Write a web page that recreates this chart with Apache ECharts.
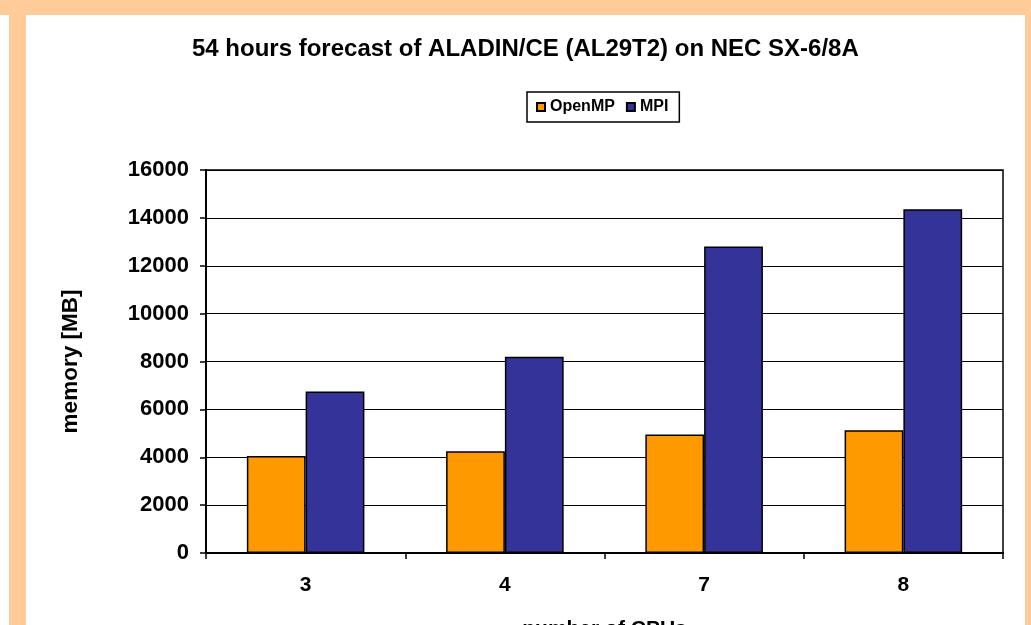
<!DOCTYPE html>
<html>
<head>
<meta charset="utf-8">
<title>ALADIN/CE memory usage</title>
<script src="https://cdn.jsdelivr.net/npm/echarts@6/dist/echarts.min.js"></script>
<style>
  html, body { margin: 0; padding: 0; background: #ffffff; }
  #chart { width: 1031px; height: 625px; }
</style>
</head>
<body>
<div id="chart"></div>
<script>
// Number of CPUs on the x axis
const cpus = ['3', '4', '7', '8'];
// Memory use in MB for each parallelisation scheme
const openmpMemory = [4050, 4250, 4950, 5130];
const mpiMemory = [6750, 8200, 12800, 14360];
// Value axis range
const yMin = 0;
const yMax = 16000;
const yStep = 2000;

const FONT = '"Liberation Sans", Arial, Helvetica, sans-serif';
const PEACH = '#FFCC99';

const chart = echarts.init(document.getElementById('chart'), null, { renderer: 'canvas' });

chart.setOption({
  backgroundColor: '#ffffff',
  animation: false,
  graphic: [
    { type: 'rect', z: -10, shape: { x: 0, y: 0, width: 1031, height: 15 }, style: { fill: PEACH } },
    { type: 'rect', z: -10, shape: { x: 9, y: 0, width: 17, height: 625 }, style: { fill: PEACH } },
    { type: 'rect', z: -10, shape: { x: 1025, y: 0, width: 6, height: 625 }, style: { fill: PEACH } }
  ],
  title: {
    text: '54 hours forecast of ALADIN/CE (AL29T2) on NEC SX-6/8A',
    left: 192,
    top: 37,
    padding: 0,
    textStyle: { fontFamily: FONT, fontSize: 24, fontWeight: 'bold', color: '#000' }
  },
  legend: {
    left: 527,
    top: 92,
    padding: [7, 11, 7, 9],
    itemGap: 11,
    itemWidth: 8,
    itemHeight: 8,
    icon: 'rect',
    borderColor: '#000',
    borderWidth: 1.5,
    textStyle: { fontFamily: FONT, fontSize: 16, fontWeight: 'bold', color: '#000' },
    data: ['OpenMP', 'MPI']
  },
  grid: {
    left: 206,
    right: 28,
    top: 170,
    bottom: 72,
    outerBoundsMode: 'none',
    containLabel: false,
    show: true,
    borderColor: '#000',
    borderWidth: 1.5,
    backgroundColor: 'transparent'
  },
  xAxis: {
    type: 'category',
    data: cpus,
    name: 'number of CPUs',
    nameLocation: 'middle',
    nameGap: 66,
    nameTextStyle: { fontFamily: FONT, fontSize: 21, fontWeight: 'bold', color: '#000' },
    axisLine: { lineStyle: { color: '#000', width: 2 } },
    axisTick: { show: true, length: 6, lineStyle: { color: '#000', width: 1.5 } },
    axisLabel: { margin: 22, fontFamily: FONT, fontSize: 21, fontWeight: 'bold', color: '#000' },
    splitLine: { show: false }
  },
  yAxis: {
    type: 'value',
    min: yMin,
    max: yMax,
    interval: yStep,
    name: 'memory [MB]',
    nameLocation: 'middle',
    nameGap: 124,
    nameTextStyle: { fontFamily: FONT, fontSize: 22.5, fontWeight: 'bold', color: '#000' },
    axisLine: { show: true, lineStyle: { color: '#000', width: 2 } },
    axisTick: { show: true, length: 6, lineStyle: { color: '#000', width: 1.5 } },
    axisLabel: {
      margin: 17,
      formatter: (v) => String(v),
      fontFamily: FONT, fontSize: 22, fontWeight: 'bold', color: '#000'
    },
    splitLine: { show: true, lineStyle: { color: '#000', width: 1.2 } }
  },
  series: [
    {
      name: 'OpenMP',
      type: 'bar',
      data: openmpMemory,
      barGap: '0%',
      barCategoryGap: '41%',
      itemStyle: { color: '#FF9900', borderColor: '#000', borderWidth: 1.5 }
    },
    {
      name: 'MPI',
      type: 'bar',
      data: mpiMemory,
      barGap: '0%',
      barCategoryGap: '41%',
      itemStyle: { color: '#333399', borderColor: '#000', borderWidth: 1.5 }
    }
  ]
});
</script>
</body>
</html>
